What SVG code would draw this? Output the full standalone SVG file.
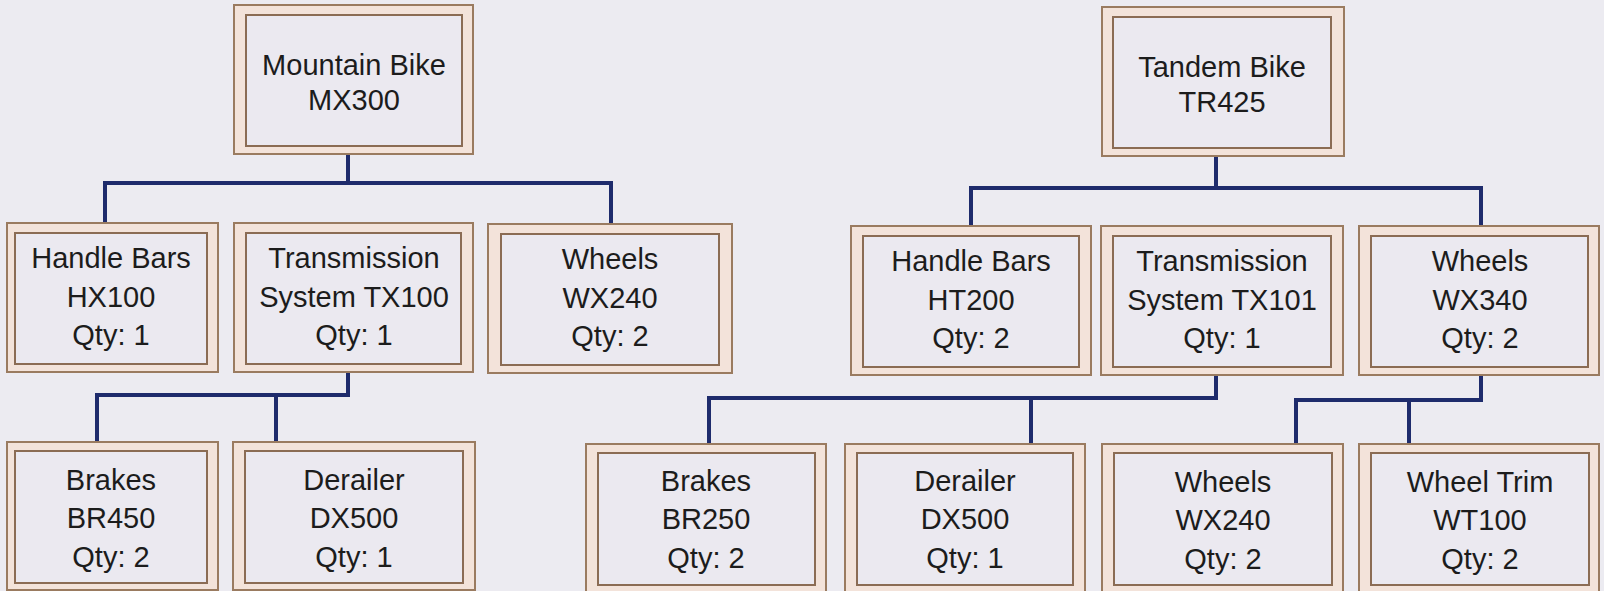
<svg xmlns="http://www.w3.org/2000/svg" width="1604" height="591" viewBox="0 0 1604 591">
<style>
.outer{fill:#f3e3da;stroke:#9a7b60;stroke-width:2}
.inner{fill:#ebe9f0;stroke:#8b6c54;stroke-width:2}
.lbl{font-family:"Liberation Sans",Arial,Helvetica,sans-serif;font-size:29px;fill:#1c1c1c;text-anchor:middle}
.conn{fill:none;stroke:#1e2b6c;stroke-width:4;stroke-linejoin:miter}
</style>
<rect x="0" y="0" width="1604" height="591" fill="#ecebf1"/>
<g id="connectors">
<path class="conn" d="M348,154 V183 M105,223 V183 H611 V224"/>
<path class="conn" d="M1216,156 V188 M971,226 V188 H1481 V226"/>
<path class="conn" d="M348,372 V395 H97 V442 M276,395 V442"/>
<path class="conn" d="M1216,375 V398 H709 V444 M1031,398 V444"/>
<path class="conn" d="M1481,375 V400 H1296 V444 M1409,400 V444"/>
</g>
<g id="mountain-bike">
<rect class="outer" x="234" y="5" width="239" height="149"/>
<rect class="inner" x="246" y="15" width="216" height="131"/>
<text class="lbl" x="354" y="75">Mountain Bike</text>
<text class="lbl" x="354" y="110">MX300</text>
</g>
<g id="tandem-bike">
<rect class="outer" x="1102" y="7" width="242" height="149"/>
<rect class="inner" x="1113" y="17" width="218" height="131"/>
<text class="lbl" x="1222" y="77">Tandem Bike</text>
<text class="lbl" x="1222" y="112">TR425</text>
</g>
<g id="hx100">
<rect class="outer" x="7" y="223" width="211" height="149"/>
<rect class="inner" x="15" y="233" width="192" height="131"/>
<text class="lbl" x="111" y="268">Handle Bars</text>
<text class="lbl" x="111" y="307">HX100</text>
<text class="lbl" x="111" y="345">Qty: 1</text>
</g>
<g id="tx100">
<rect class="outer" x="234" y="223" width="239" height="149"/>
<rect class="inner" x="246" y="233" width="215" height="131"/>
<text class="lbl" x="354" y="268">Transmission</text>
<text class="lbl" x="354" y="307">System TX100</text>
<text class="lbl" x="354" y="345">Qty: 1</text>
</g>
<g id="wx240-a">
<rect class="outer" x="488" y="224" width="244" height="149"/>
<rect class="inner" x="501" y="234" width="218" height="131"/>
<text class="lbl" x="610" y="269">Wheels</text>
<text class="lbl" x="610" y="308">WX240</text>
<text class="lbl" x="610" y="346">Qty: 2</text>
</g>
<g id="ht200">
<rect class="outer" x="851" y="226" width="240" height="149"/>
<rect class="inner" x="863" y="236" width="216" height="131"/>
<text class="lbl" x="971" y="271">Handle Bars</text>
<text class="lbl" x="971" y="310">HT200</text>
<text class="lbl" x="971" y="348">Qty: 2</text>
</g>
<g id="tx101">
<rect class="outer" x="1101" y="226" width="242" height="149"/>
<rect class="inner" x="1113" y="236" width="218" height="131"/>
<text class="lbl" x="1222" y="271">Transmission</text>
<text class="lbl" x="1222" y="310">System TX101</text>
<text class="lbl" x="1222" y="348">Qty: 1</text>
</g>
<g id="wx340">
<rect class="outer" x="1359" y="226" width="240" height="149"/>
<rect class="inner" x="1371" y="236" width="217" height="131"/>
<text class="lbl" x="1480" y="271">Wheels</text>
<text class="lbl" x="1480" y="310">WX340</text>
<text class="lbl" x="1480" y="348">Qty: 2</text>
</g>
<g id="br450">
<rect class="outer" x="7" y="442" width="211" height="148"/>
<rect class="inner" x="15" y="451" width="192" height="132"/>
<text class="lbl" x="111" y="490">Brakes</text>
<text class="lbl" x="111" y="528">BR450</text>
<text class="lbl" x="111" y="567">Qty: 2</text>
</g>
<g id="dx500-a">
<rect class="outer" x="233" y="442" width="242" height="148"/>
<rect class="inner" x="245" y="451" width="218" height="132"/>
<text class="lbl" x="354" y="490">Derailer</text>
<text class="lbl" x="354" y="528">DX500</text>
<text class="lbl" x="354" y="567">Qty: 1</text>
</g>
<g id="br250">
<rect class="outer" x="586" y="444" width="240" height="148"/>
<rect class="inner" x="598" y="453" width="217" height="132"/>
<text class="lbl" x="706" y="491">Brakes</text>
<text class="lbl" x="706" y="529">BR250</text>
<text class="lbl" x="706" y="568">Qty: 2</text>
</g>
<g id="dx500-b">
<rect class="outer" x="845" y="444" width="240" height="148"/>
<rect class="inner" x="857" y="453" width="216" height="132"/>
<text class="lbl" x="965" y="491">Derailer</text>
<text class="lbl" x="965" y="529">DX500</text>
<text class="lbl" x="965" y="568">Qty: 1</text>
</g>
<g id="wx240-b">
<rect class="outer" x="1102" y="444" width="241" height="148"/>
<rect class="inner" x="1114" y="453" width="218" height="132"/>
<text class="lbl" x="1223" y="492">Wheels</text>
<text class="lbl" x="1223" y="530">WX240</text>
<text class="lbl" x="1223" y="569">Qty: 2</text>
</g>
<g id="wt100">
<rect class="outer" x="1359" y="444" width="240" height="148"/>
<rect class="inner" x="1371" y="453" width="218" height="132"/>
<text class="lbl" x="1480" y="492">Wheel Trim</text>
<text class="lbl" x="1480" y="530">WT100</text>
<text class="lbl" x="1480" y="569">Qty: 2</text>
</g>
</svg>
